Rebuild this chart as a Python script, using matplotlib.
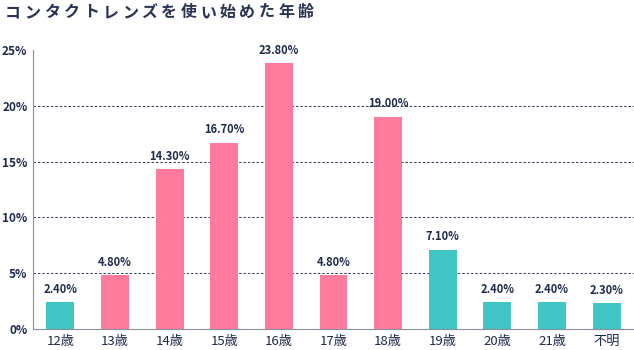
import numpy as np
import matplotlib.pyplot as plt

plt.rcParams['font.family'] = ['Noto Sans CJK JP', 'DejaVu Sans']

# data
ages = ["12歳", "13歳", "14歳", "15歳", "16歳", "17歳", "18歳", "19歳", "20歳", "21歳", "不明"]
shares = [2.4, 4.8, 14.3, 16.7, 23.8, 4.8, 19.0, 7.1, 2.4, 2.4, 2.3]
groups = ["teal", "pink", "pink", "pink", "pink", "pink", "pink", "teal", "teal", "teal", "teal"]
title = "コンタクトレンズを使い始めた年齢"

ink = "#1e2a4a"
palette = {"teal": "#40c4c4", "pink": "#ff7a9c"}

fig = plt.figure(figsize=(6.34, 3.5), dpi=100)
ax = fig.add_axes([33 / 634, 1 - 329 / 350, 1 - 33 / 634, (329 - 50) / 350])

x = np.arange(len(ages))
ax.bar(x, shares, width=0.51, color=[palette[g] for g in groups], zorder=2)
for xi, v in zip(x, shares):
    ax.text(xi, v + 0.6, f"{v:.2f}%", ha="center", va="bottom",
            fontsize=8, fontweight="bold", color=ink)

ax.set_xlim(-0.5, len(ages) - 0.5)
ax.set_ylim(0, 25)
ax.set_yticks([0, 5, 10, 15, 20, 25])
ax.set_yticklabels([f"{t}%" for t in [0, 5, 10, 15, 20, 25]],
                   fontsize=8.5, fontweight="bold", color=ink)
ax.set_xticks(x)
ax.set_xticklabels(ages, fontsize=9.5, color=ink)
ax.tick_params(axis="both", length=0, pad=4)
ax.tick_params(axis="y", pad=4)

for g in [5, 10, 15, 20]:
    ax.axhline(g, color="#2e3856", lw=0.7, ls=(0, (2.5, 2)), zorder=1)

for s in ["top", "right"]:
    ax.spines[s].set_visible(False)
ax.spines["left"].set_color("#8a8f9c")
ax.spines["bottom"].set_color("#8a8f9c")

# letter-spaced title
for i, ch in enumerate(title):
    fig.text((5 + i * 19.5) / 634, 1 - 12 / 350, ch, ha="left", va="center",
             fontsize=11.5, fontweight="bold", color="#2a3350")

fig.savefig("out.png", dpi=100)
